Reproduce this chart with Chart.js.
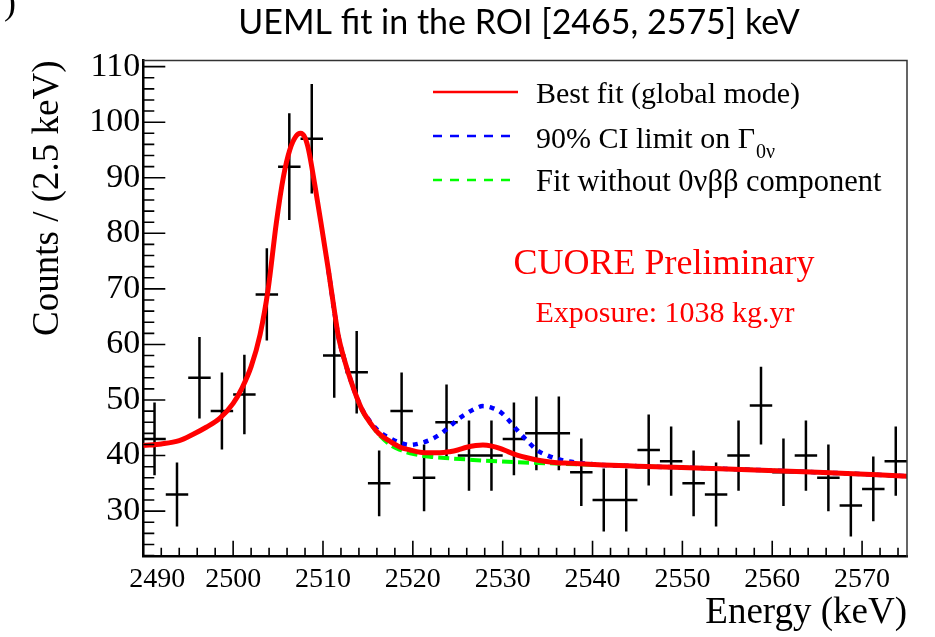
<!DOCTYPE html>
<html>
<head>
<meta charset="utf-8">
<script src="https://cdn.jsdelivr.net/npm/chart.js@4/dist/chart.umd.min.js"></script>
<style>
  html, body { margin: 0; padding: 0; background: #fff; overflow: hidden; }
  canvas { display: block; }
</style>
</head>
<body>
<canvas id="c" width="935" height="637"></canvas>
<script>
// Binned spectrum: bin centres (keV), 2.5 keV wide bins
const binCenters = [
  2491.25, 2493.75, 2496.25, 2498.75, 2501.25, 2503.75, 2506.25, 2508.75,
  2511.25, 2513.75, 2516.25, 2518.75, 2521.25, 2523.75, 2526.25, 2528.75,
  2531.25, 2533.75, 2536.25, 2538.75, 2541.25, 2543.75, 2546.25, 2548.75,
  2551.25, 2553.75, 2556.25, 2558.75, 2561.25, 2563.75, 2566.25, 2568.75,
  2571.25, 2573.75
];
const counts = [
  43, 33, 54, 48, 51, 69, 92, 97,
  58, 55, 35, 48, 36, 46, 40, 40,
  43, 44, 44, 37, 32, 32, 41, 39,
  35, 33, 40, 49, 37, 40, 36, 31,
  34, 39
];
const binHalfWidth = 1.25;

// Best-fit model (global mode)
const fitEnergy = [
  2490, 2492, 2494, 2495.5, 2497, 2498.5, 2500, 2501, 2502, 2503, 2503.9,
  2504.8, 2505.6, 2506.3, 2507, 2507.5, 2508, 2508.4, 2509.1, 2509.9, 2510.6,
  2511.2, 2511.7, 2512.5, 2513.2, 2514.3, 2515.3, 2516.2, 2517.5, 2518.6,
  2519.7, 2520.8, 2521.9, 2523, 2524.1, 2525, 2526, 2527, 2527.8, 2528.8,
  2529.7, 2530.6, 2531.6, 2532.7, 2533.8, 2535.5, 2537.5, 2541.2, 2545,
  2555, 2565, 2575
];
const fitBest = [
  41.8, 42.1, 42.7, 43.8, 45.1, 46.7, 49.4, 52.2, 56.0, 61.8, 70.0,
  81.8, 90.2, 95.0, 97.5, 98.0, 97.2, 95.0, 88.6, 80.6, 73.4,
  66.8, 61.6, 56.6, 53.0, 48.4, 45.8, 44.0, 42.5, 41.5,
  41.0, 40.6, 40.5, 40.5, 40.7, 41.0, 41.5, 41.8, 41.9, 41.7,
  41.3, 40.7, 40.1, 39.6, 39.2, 38.8, 38.6, 38.3, 38.1,
  37.6, 37.0, 36.3
];

// Model with the signal rate at its 90% CI upper limit
const ciEnergy = [
  2510.6, 2511.7, 2512.5, 2513.2, 2514.3, 2515.3, 2516.2, 2517.5, 2518.6,
  2519.7, 2520.8, 2521.9, 2523, 2524.1, 2525, 2526, 2527, 2527.8, 2528.8,
  2529.7, 2530.6, 2531.6, 2532.7, 2533.8, 2535, 2536.3, 2538.5, 2541.2,
  2545, 2555, 2565, 2575
];
const ciLimit = [
  73.4, 61.6, 56.6, 53.0, 48.5, 46.0, 44.4, 43.1, 42.3,
  41.9, 42.2, 42.8, 43.8, 45.2, 46.5, 47.6, 48.5, 48.9, 48.6,
  47.9, 46.5, 44.6, 42.7, 41.0, 40.0, 39.3, 38.7, 38.3,
  38.1, 37.6, 37.0, 36.3
];

// Model without the 0vbb component
const bkgEnergy = [
  2510.6, 2511.7, 2512.5, 2513.2, 2514.3, 2515.3, 2516.2, 2517.5, 2518.6,
  2519.7, 2521.9, 2524.1, 2526, 2527.8, 2531.6, 2535.3, 2539, 2541.2,
  2545, 2555, 2565, 2575
];
const bkgOnly = [
  73.4, 61.6, 56.6, 53.0, 48.2, 45.7, 43.8, 41.9, 41.0,
  40.4, 39.8, 39.5, 39.3, 39.1, 38.8, 38.6, 38.4, 38.3,
  38.1, 37.6, 37.0, 36.3
];

const xTickValues = [2490, 2500, 2510, 2520, 2530, 2540, 2550, 2560, 2570];
const yTickValues = [30, 40, 50, 60, 70, 80, 90, 100, 110];

const serif = '"Liberation Serif", "Times New Roman", serif';

// Error-bar segments: vertical +-sqrt(N), horizontal +- half bin width
const errSegments = [];
binCenters.forEach((x, i) => {
  const n = counts[i];
  const e = Math.sqrt(n);
  errSegments.push({x: x, y: n - e}, {x: x, y: n + e}, {x: x, y: null});
  errSegments.push({x: x - binHalfWidth, y: n}, {x: x + binHalfWidth, y: n}, {x: x, y: null});
});

const toPoints = (xs, ys) => xs.map((x, i) => ({x: x, y: ys[i]}));

// Frame, inward ROOT-style ticks, legend and annotations
const decorations = {
  id: 'decorations',
  afterDraw(chart) {
    const {ctx, chartArea: a, scales: {x, y}} = chart;
    ctx.save();

    // top and right edges of the frame
    ctx.strokeStyle = '#333';
    ctx.lineWidth = 1.5;
    ctx.beginPath();
    ctx.moveTo(a.left, a.top);
    ctx.lineTo(a.right, a.top);
    ctx.lineTo(a.right, a.bottom);
    ctx.stroke();

    // inward tick marks (major every 10, minor every 2)
    ctx.strokeStyle = '#000';
    ctx.lineWidth = 1.6;
    ctx.beginPath();
    for (let v = x.min; v <= x.max; v += 2) {
      const px = x.getPixelForValue(v);
      const len = (v % 10 === 0) ? 16 : 9;
      ctx.moveTo(px, a.bottom);
      ctx.lineTo(px, a.bottom - len);
    }
    for (let v = 22; v <= y.max; v += 2) {
      const py = y.getPixelForValue(v);
      const len = (v % 10 === 0) ? 22 : 11;
      ctx.moveTo(a.left, py);
      ctx.lineTo(a.left + len, py);
    }
    ctx.stroke();

    // legend
    const lx0 = 433, lx1 = 518, tx = 536;
    const rows = [
      {y: 92, color: '#ff0000', dash: []},
      {y: 136, color: '#0000ff', dash: [9, 8]},
      {y: 180, color: '#00ff00', dash: [9, 8]}
    ];
    rows.forEach(r => {
      ctx.strokeStyle = r.color;
      ctx.lineWidth = 2.5;
      ctx.setLineDash(r.dash);
      ctx.beginPath();
      ctx.moveTo(lx0, r.y);
      ctx.lineTo(lx1, r.y);
      ctx.stroke();
    });
    ctx.setLineDash([]);
    ctx.fillStyle = '#000';
    ctx.textAlign = 'left';
    ctx.textBaseline = 'alphabetic';
    ctx.font = '30px ' + serif;
    ctx.fillText('Best fit (global mode)', tx, 103);
    const l2 = '90% CI limit on \u0393';
    ctx.fillText(l2, tx, 148);
    const w2 = ctx.measureText(l2).width;
    ctx.font = '20px ' + serif;
    ctx.fillText('0\u03bd', tx + w2 + 1, 158);
    ctx.font = '30.5px ' + serif;
    ctx.fillText('Fit without 0\u03bd\u03b2\u03b2 component', tx, 191);

    // annotations
    ctx.fillStyle = '#ff0000';
    ctx.textAlign = 'center';
    ctx.font = '36px ' + serif;
    ctx.fillText('CUORE Preliminary', 664, 274);
    ctx.font = '30px ' + serif;
    ctx.fillText('Exposure: 1038 kg.yr', 665, 322);

    // heading
    ctx.fillStyle = '#000';
    ctx.font = '34px Lato, "Open Sans", sans-serif';
    ctx.textBaseline = 'middle';
    ctx.fillText('UEML fit in the ROI [2465, 2575] keV', 519, 23);

    // closing bracket from the neighbouring panel label
    ctx.textAlign = 'left';
    ctx.textBaseline = 'alphabetic';
    ctx.font = '36px ' + serif;
    ctx.fillText(')', 4, 14);

    ctx.restore();
  }
};

new Chart(document.getElementById('c'), {
  type: 'scatter',
  data: {
    datasets: [
      {
        label: 'Best fit (global mode)',
        data: toPoints(fitEnergy, fitBest),
        showLine: true,
        borderColor: '#ff0000',
        borderWidth: 5,
        pointRadius: 0,
        cubicInterpolationMode: 'monotone',
        order: 0
      },
      {
        label: '90% CI limit',
        data: toPoints(ciEnergy, ciLimit),
        showLine: true,
        borderColor: '#0000ff',
        borderWidth: 4.5,
        borderDash: [5, 6],
        pointRadius: 0,
        cubicInterpolationMode: 'monotone',
        order: 1
      },
      {
        label: 'Fit without 0vbb component',
        data: toPoints(bkgEnergy, bkgOnly),
        showLine: true,
        borderColor: '#00ff00',
        borderWidth: 4,
        borderDash: [11, 5],
        pointRadius: 0,
        cubicInterpolationMode: 'monotone',
        order: 2
      },
      {
        label: 'Data',
        data: errSegments,
        showLine: true,
        spanGaps: false,
        borderColor: '#000',
        borderWidth: 2.5,
        pointRadius: 0,
        tension: 0,
        order: 3
      }
    ]
  },
  options: {
    responsive: false,
    animation: false,
    events: [],
    layout: {padding: {top: 60.5, right: 28, bottom: 0, left: 0}},
    plugins: {
      legend: {display: false},
      tooltip: {enabled: false},
      title: {display: false}
    },
    scales: {
      x: {
        type: 'linear',
        position: 'bottom',
        min: 2490,
        max: 2575,
        afterBuildTicks: s => { s.ticks = xTickValues.map(v => ({value: v})); },
        afterFit: s => { s.height = 80.3; },
        ticks: {
          callback: (v, i) => (i === 0 ? '    ' + v : String(v)),
          font: {family: serif, size: 28},
          color: '#000',
          padding: 6,
          maxRotation: 0,
          autoSkip: false
        },
        grid: {display: false, drawTicks: false},
        border: {display: true, color: '#000', width: 2.5},
        title: {
          display: true,
          text: 'Energy (keV)',
          align: 'end',
          color: '#000',
          font: {family: serif, size: 37},
          padding: {top: 0, bottom: 2}
        }
      },
      y: {
        type: 'linear',
        min: 21.8,
        max: 111.1,
        afterBuildTicks: s => { s.ticks = yTickValues.map(v => ({value: v})); },
        afterFit: s => { s.width = 143.3; },
        ticks: {
          callback: v => String(v),
          font: {family: serif, size: 34},
          color: '#000',
          padding: 3,
          autoSkip: false
        },
        grid: {display: false, drawTicks: false},
        border: {display: true, color: '#000', width: 2.5},
        title: {
          display: true,
          text: 'Counts / (2.5 keV)',
          align: 'end',
          color: '#000',
          font: {family: serif, size: 37},
          padding: {top: 26, bottom: 0}
        }
      }
    }
  },
  plugins: [decorations]
});
</script>
</body>
</html>
